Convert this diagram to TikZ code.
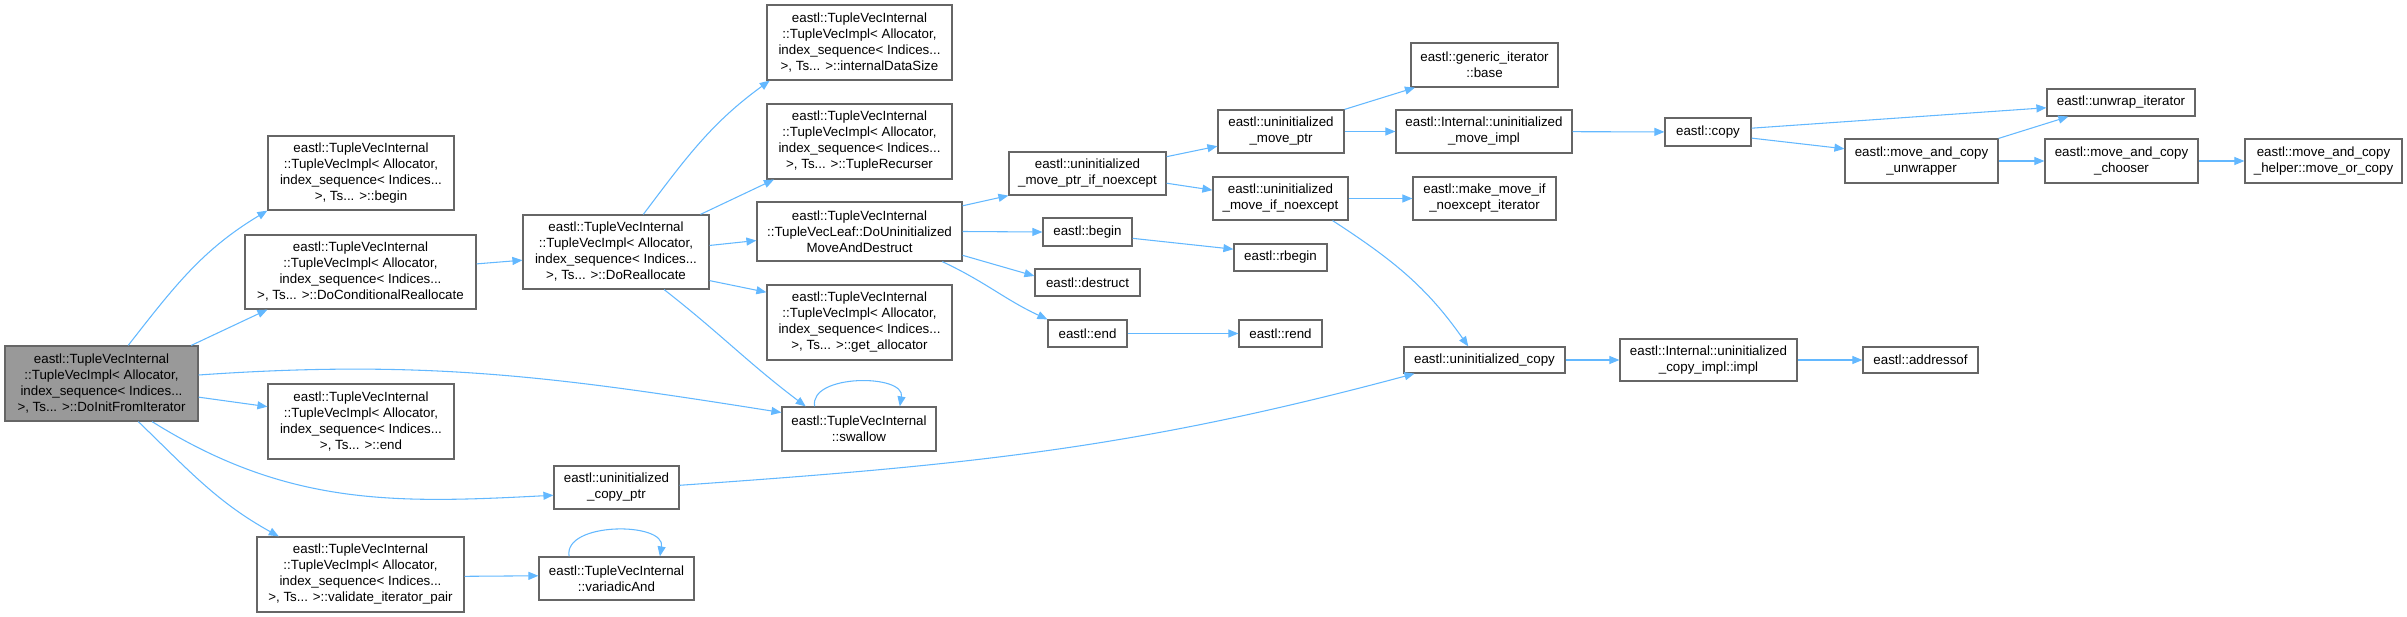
\documentclass[tikz,border=0pt]{standalone}
\usepackage{fontspec}
\setmainfont{Liberation Sans}
\usepackage{tikz}
\usetikzlibrary{arrows.meta}
\definecolor{edgeblue}{HTML}{63B8FF}
\definecolor{boxline}{HTML}{666666}
\definecolor{rootfill}{HTML}{999999}

\begin{document}
\begin{tikzpicture}[
    x=0.75pt, y=0.75pt,
    fn/.style={rectangle, draw=boxline, line width=0.9pt, fill=white, inner sep=1pt, align=center, font=\fontsize{10}{12}\selectfont},
    rootfn/.style={fn, fill=rootfill},
    boxsize/.style 2 args={minimum width=#1*0.75pt, minimum height=#2*0.75pt},
    call/.style={-{Triangle[length=7.5pt, width=6pt]}, line width=0.8pt, color=edgeblue},
  ]
  \useasboundingbox (0,0) rectangle (2407,-617);

  \node[rootfn, boxsize={193}{75}] (doinit) at (101.5,-383.5) {eastl::TupleVecInternal\\::TupleVecImpl< Allocator,\\ index\_sequence< Indices...\\ >, Ts... >::DoInitFromIterator};
  \node[fn, boxsize={186}{74}] (tvbegin) at (361,-173) {eastl::TupleVecInternal\\::TupleVecImpl< Allocator,\\ index\_sequence< Indices...\\>, Ts... >::begin};
  \node[fn, boxsize={231}{74}] (condrealloc) at (360.5,-272) {eastl::TupleVecInternal\\::TupleVecImpl< Allocator,\\ index\_sequence< Indices...\\ >, Ts... >::DoConditionalReallocate};
  \node[fn, boxsize={186}{75}] (tvend) at (361,-421.5) {eastl::TupleVecInternal\\::TupleVecImpl< Allocator,\\ index\_sequence< Indices...\\>, Ts... >::end};
  \node[fn, boxsize={207}{75}] (validate) at (360.5,-574.5) {eastl::TupleVecInternal\\::TupleVecImpl< Allocator,\\ index\_sequence< Indices...\\ >, Ts... >::validate\_iterator\_pair};

  \node[fn, boxsize={185}{75}] (datasize) at (859.5,-42.5) {eastl::TupleVecInternal\\::TupleVecImpl< Allocator,\\ index\_sequence< Indices...\\ >, Ts... >::internalDataSize};
  \node[fn, boxsize={185}{75}] (recurser) at (859.5,-141.5) {eastl::TupleVecInternal\\::TupleVecImpl< Allocator,\\ index\_sequence< Indices...\\ >, Ts... >::TupleRecurser};
  \node[fn, boxsize={186}{74}] (realloc) at (616,-252) {eastl::TupleVecInternal\\::TupleVecImpl< Allocator,\\ index\_sequence< Indices...\\ >, Ts... >::DoReallocate};
  \node[fn, boxsize={205}{59}] (movedestruct) at (859.5,-231.5) {eastl::TupleVecInternal\\::TupleVecLeaf::DoUninitialized\\MoveAndDestruct};
  \node[fn, boxsize={185}{75}] (getalloc) at (859.5,-322.5) {eastl::TupleVecInternal\\::TupleVecImpl< Allocator,\\ index\_sequence< Indices...\\ >, Ts... >::get\_allocator};
  \node[fn, boxsize={154}{44}] (swallow) at (859,-429) {eastl::TupleVecInternal\\::swallow};
  \node[fn, boxsize={125}{43}] (copyptr) at (616.5,-487.5) {eastl::uninitialized\\\_copy\_ptr};
  \node[fn, boxsize={155}{43}] (variadic) at (616.5,-578.5) {eastl::TupleVecInternal\\::variadicAnd};

  \node[fn, boxsize={157}{43}] (moveptrne) at (1087.5,-173.5) {eastl::uninitialized\\\_move\_ptr\_if\_noexcept};
  \node[fn, boxsize={89}{28}] (ebegin) at (1087.5,-232) {eastl::begin};
  \node[fn, boxsize={105}{27}] (destruct) at (1087.5,-282.5) {eastl::destruct};
  \node[fn, boxsize={79}{27}] (eend) at (1087.5,-333.5) {eastl::end};
  \node[fn, boxsize={126}{43}] (moveptr) at (1281,-131.5) {eastl::uninitialized\\\_move\_ptr};
  \node[fn, boxsize={135}{43}] (moveifne) at (1280.5,-198.5) {eastl::uninitialized\\\_move\_if\_noexcept};
  \node[fn, boxsize={93}{27}] (rbegin) at (1280.5,-257.5) {eastl::rbegin};
  \node[fn, boxsize={83}{27}] (rend) at (1280.5,-333.5) {eastl::rend};

  \node[fn, boxsize={147}{44}] (gbase) at (1484.5,-65) {eastl::generic\_iterator\\::base};
  \node[fn, boxsize={176}{43}] (moveimpl) at (1484,-131.5) {eastl::Internal::uninitialized\\\_move\_impl};
  \node[fn, boxsize={143}{43}] (makemove) at (1484.5,-198.5) {eastl::make\_move\_if\\\_noexcept\_iterator};
  \node[fn, boxsize={161}{26}] (ucopy) at (1484.5,-360) {eastl::uninitialized\_copy};
  \node[fn, boxsize={86}{28}] (ecopy) at (1708,-132) {eastl::copy};
  \node[fn, boxsize={177}{42}] (copyimpl) at (1708.5,-360) {eastl::Internal::uninitialized\\\_copy\_impl::impl};
  \node[fn, boxsize={148}{27}] (unwrapit) at (2121,-102.5) {eastl::unwrap\_iterator};
  \node[fn, boxsize={153}{44}] (unwrapper) at (1921.5,-161) {eastl::move\_and\_copy\\\_unwrapper};
  \node[fn, boxsize={115}{26}] (addressof) at (1920.5,-360) {eastl::addressof};
  \node[fn, boxsize={153}{44}] (chooser) at (2121.5,-161) {eastl::move\_and\_copy\\\_chooser};
  \node[fn, boxsize={157}{44}] (moveorcopy) at (2323.5,-161) {eastl::move\_and\_copy\\\_helper::move\_or\_copy};

  \draw[call] (doinit.55) to[out=52,in=211] (tvbegin.south west);
  \draw[call] (doinit.23) -- (condrealloc.202);
  \draw[call] (doinit.5) to[out=4,in=171] (swallow.168);
  \draw[call] (doinit.-8.5) -- (tvend.171);
  \draw[call] (doinit.-37) to[out=-32,in=183] (copyptr.187);
  \draw[call] (doinit.-46) to[out=-44,in=151] (validate.155);
  \draw[call] (condrealloc.4.5) -- (realloc.185);
  \draw[call] (validate.-1) -- (variadic.178);
  \draw[call] (realloc.54) to[out=53,in=216] (datasize.203);
  \draw[call] (realloc.24) -- (recurser.204);
  \draw[call] (realloc.4) -- (movedestruct.185);
  \draw[call] (realloc.-17) -- (getalloc.162);
  \draw[call] (realloc.-38) to[out=-38,in=143] (swallow.157);
  \draw[call] (swallow.153) to[out=100,in=80] (swallow.29);
  \draw[call] (variadic.155) to[out=100,in=80] (variadic.27);
  \draw[call] (movedestruct.14.5) -- (moveptrne.south west);
  \draw[call] (movedestruct.east) -- (ebegin.west);
  \draw[call] (movedestruct.-13) -- (destruct.173);
  \draw[call] (movedestruct.-20.6) to[out=-25,in=155] (eend.north west);
  \draw[call] (moveptrne.12.6) -- (moveptr.193);
  \draw[call] (moveptrne.-7.6) -- (moveifne.173);
  \draw[call] (moveptr.north east) -- (gbase.198);
  \draw[call] (moveptr) -- (moveimpl);
  \draw[call] (moveimpl) -- (ecopy);
  \draw[call] (moveifne) -- (makemove);
  \draw[call] (moveifne.-23.5) to[out=-33,in=125] (ucopy.140);
  \draw[call] (ebegin.-8) -- (rbegin.170);
  \draw[call] (eend) -- (rend);
  \draw[call] (copyptr.2) to[out=4,in=195] (ucopy.191);
  \draw[call] (ucopy) -- (copyimpl);
  \draw[call] (copyimpl) -- (addressof);
  \draw[call] (ecopy.5) -- (unwrapit.184);
  \draw[call] (ecopy.-8) -- (unwrapper.171);
  \draw[call] (unwrapper.north east) -- (unwrapit.195);
  \draw[call] (unwrapper) -- (chooser);
  \draw[call] (chooser) -- (moveorcopy);
\end{tikzpicture}
\end{document}
